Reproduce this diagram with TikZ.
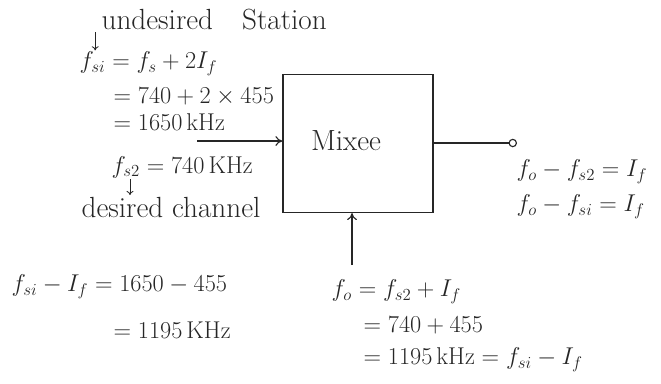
\documentclass[tikz,border=0pt]{standalone}
\usepackage{tikz}
\usetikzlibrary{arrows.meta, positioning}
\begin{document}
\begin{tikzpicture}[x=0.025cm, y=-0.025cm, black!85,
  eqn/.style={anchor=west, font=\LARGE, inner sep=1pt},
  words/.style={anchor=west, font=\huge, inner sep=1pt},
  sig/.style={thick, -{To[length=5pt, width=7pt]}},
  hint/.style={semithick, -{To[length=3pt, width=5pt]}}]
\useasboundingbox (0,0) rectangle (661,383);
% --- Mixer block ---
\node[draw, thick, minimum width=3.75cm, minimum height=3.45cm] (mixer) at (358,143.5) {};
\node[font=\huge] (mixlbl) at (346,141) {Mixee};

% --- Left: image station and desired channel ---
\node[words] (undes) at (100,20) {undesired\quad Station};
\node[eqn] (fsi) at (78,64) {$f_{si}=f_s+2I_f$};
\node[eqn] (fsia) at (112,97) {$=740+2\times455$};
\node[eqn] (fsib) at (112,122) {$=1650\,\mathrm{kHz}$};
\node[eqn] (fsd) at (110,167) {$f_{s2}=740\,\mathrm{KHz}$};
\node[words] (desch) at (80,207) {desired channel};
\draw[hint] ([xshift=-0.12cm]undes.south west) -- ([xshift=-0.12cm]undes.south west |- fsi.north);
\draw[hint] ([xshift=0.5cm]fsd.south west) -- ([xshift=0.5cm]fsd.south west |- desch.north);

% --- Signal input ---
\coordinate (inpt) at (197,141);
\draw[sig] (inpt) -- (inpt -| mixer.west);

% --- IF output ---
\coordinate (outpt) at (517,143);
\draw[thick, -{Circle[open, length=6pt]}] (mixer.east |- outpt) -- (outpt);
\node[eqn] (fo1) at (515,172) {$f_o-f_{s2}=I_f$};
\node[eqn] (fo2) at (515,207) {$f_o-f_{si}=I_f$};

% --- Local oscillator input ---
\coordinate (loin) at (352,265);
\draw[sig] (loin) -- (loin |- mixer.south);
\node[eqn] (fo) at (330,292) {$f_o=f_{s2}+I_f$};
\node[eqn] (foa) at (362,325) {$=740+455$};
\node[eqn] (fob) at (362,360) {$=1195\,\mathrm{kHz}=f_{si}-I_f$};

% --- Image check ---
\node[eqn] (fsic) at (10,287) {$f_{si}-I_f=1650-455$};
\node[eqn] (fsid) at (112,330) {$=1195\,\mathrm{KHz}$};
\end{tikzpicture}
\end{document}
